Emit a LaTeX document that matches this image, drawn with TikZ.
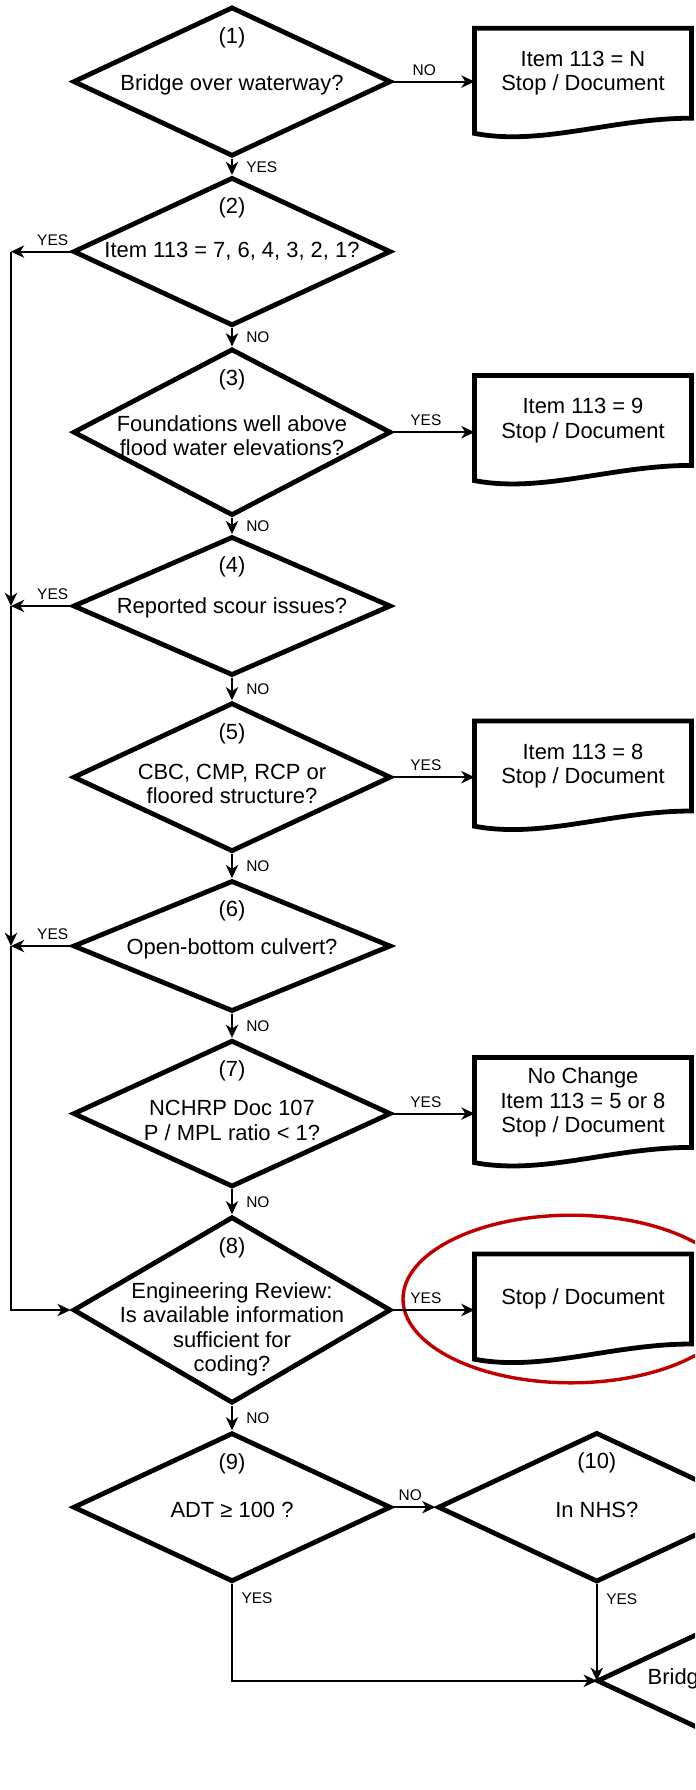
\documentclass[tikz,border=0pt]{standalone}
\usepackage{fontspec}
\setmainfont{Liberation Sans}
\usetikzlibrary{shapes.geometric,arrows.meta,positioning}

\definecolor{ringred}{RGB}{192,0,0}
\newcommand\qfont{\fontsize{15.6pt}{17.4pt}\selectfont}
\newcommand\lblfont{\fontsize{11pt}{13pt}\selectfont}
% wavy document outline around a box node
\newcommand\docshape[1]{%
  \draw[line width=0.12cm] (#1.north west) -- (#1.north east) -- (#1.south east)
    .. controls ([xshift=-2cm]#1.south east) and ([xshift=1.7cm,yshift=-0.7cm]#1.south west)
    .. ([yshift=-0.38cm]#1.south west) -- cycle;}

\tikzset{
  decision/.style={diamond,draw,line width=0.12cm,minimum width=7.95cm,inner sep=0pt},
  docbody/.style={rectangle,minimum width=5.425cm,minimum height=2.25cm,inner sep=0pt,outer sep=0pt,align=center},
  qtext/.style={align=center,inner sep=0pt},
  lbl/.style={font=\lblfont,inner sep=1pt},
}

\begin{document}
\begin{tikzpicture}[>={Stealth[length=3.3mm,width=3.1mm,inset=1mm]},line width=1.3pt,font=\qfont]
  \useasboundingbox (0,0) rectangle (17.375,-44.75);
  \clip (0,0) rectangle (17.375,-44.75);

  % decisions
  \node[decision,minimum height=3.735cm] (d1) at (5.8,-2.04) {};
  \node[decision,minimum height=3.71cm] (d2) at (5.8,-6.29) {};
  \node[decision,minimum height=4.17cm] (d3) at (5.8,-10.805) {};
  \node[decision,minimum height=3.475cm] (d4) at (5.8,-15.15) {};
  \node[decision,minimum height=3.725cm] (d5) at (5.8,-19.43) {};
  \node[decision,minimum height=3.275cm] (d6) at (5.8,-23.65) {};
  \node[decision,minimum height=3.67cm] (d7) at (5.8,-27.84) {};
  \node[decision,minimum height=4.665cm] (d8) at (5.8,-32.75) {};
  \node[decision,minimum height=3.725cm] (d9) at (5.8,-37.68) {};
  \node[decision,minimum height=3.74cm] (d10) at (14.92,-37.68) {};
  \node[decision,minimum height=3.74cm] (d11) at (18.895,-42.02) {};

  \node (n1) at ([yshift=-0.83cm]d1.north) {(1)};
  \node (n2) at ([yshift=-0.83cm]d2.north) {(2)};
  \node (n3) at ([yshift=-0.83cm]d3.north) {(3)};
  \node (n4) at ([yshift=-0.83cm]d4.north) {(4)};
  \node (n5) at ([yshift=-0.83cm]d5.north) {(5)};
  \node (n6) at ([yshift=-0.83cm]d6.north) {(6)};
  \node (n7) at ([yshift=-0.83cm]d7.north) {(7)};
  \node (n8) at ([yshift=-0.83cm]d8.north) {(8)};
  \node (n9) at ([yshift=-0.83cm]d9.north) {(9)};
  \node (n10) at ([yshift=-0.83cm]d10.north) {(10)};

  \node[qtext] (q1) at ([yshift=-0.08cm]d1.center) {Bridge over waterway?};
  \node[qtext] (q2) at (d2.center) {Item 113 = 7, 6, 4, 3, 2, 1?};
  \node[qtext] (q3) at ([yshift=-0.08cm]d3.center) {Foundations well above\\flood water elevations?};
  \node[qtext] (q4) at ([yshift=-0.04cm]d4.center) {Reported scour issues?};
  \node[qtext] (q5) at ([yshift=-0.175cm]d5.center) {CBC, CMP, RCP or\\floored structure?};
  \node[qtext] (q6) at ([yshift=-0.08cm]d6.center) {Open-bottom culvert?};
  \node[qtext] (q7) at ([yshift=-0.175cm]d7.center) {NCHRP Doc 107\\P / MPL ratio < 1?};
  \node[qtext] (q8) at ([yshift=-0.485cm]d8.center) {Engineering Review:\\Is available information\\sufficient for\\coding?};
  \node[qtext] (q9) at ([yshift=-0.07cm]d9.center) {ADT ≥ 100 ?};
  \node[qtext] (q10) at ([yshift=-0.07cm]d10.center) {In NHS?};
  \node[qtext,anchor=west] (q11) at (16.17,-41.96) {Bridge};

  % stop boxes
  \node[docbody] (t1) at (14.575,-1.83) {Item 113 = N\\Stop / Document};
  \node[docbody] (t3) at (14.575,-10.51) {Item 113 = 9\\Stop / Document};
  \node[docbody] (t5) at (14.575,-19.15) {Item 113 = 8\\Stop / Document};
  \node[docbody] (t7) at (14.575,-27.56) {No Change\\Item 113 = 5 or 8\\Stop / Document};
  \node[docbody] (t8) at (14.575,-32.475) {Stop / Document};
  \docshape{t1} \docshape{t3} \docshape{t5} \docshape{t7} \docshape{t8}

  \draw[ringred,line width=0.085cm] ([xshift=-0.3cm]t8.center) ellipse [x radius=4.2cm,y radius=2.095cm];

  % main column
  \draw[->] (d1) -- node[lbl,right=0.3cm] {YES} (d2);
  \draw[->] (d2) -- node[lbl,right=0.3cm] {NO} (d3);
  \draw[->] (d3) -- node[lbl,right=0.3cm] {NO} (d4);
  \draw[->] (d4) -- node[lbl,right=0.3cm] {NO} (d5);
  \draw[->] (d5) -- node[lbl,right=0.3cm] {NO} (d6);
  \draw[->] (d6) -- node[lbl,right=0.3cm] {NO} (d7);
  \draw[->] (d7) -- node[lbl,right=0.3cm] {NO} (d8);
  \draw[->] (d8) -- node[lbl,right=0.3cm] {NO} (d9);

  % to the stop boxes
  \draw[->] (d1.east) -- node[lbl,above=0.1cm,pos=0.38] {NO} (d1.east -| t1.west);
  \draw[->] (d3.east) -- node[lbl,above=0.1cm,pos=0.4] {YES} (d3.east -| t3.west);
  \draw[->] (d5.east) -- node[lbl,above=0.1cm,pos=0.4] {YES} (d5.east -| t5.west);
  \draw[->] (d7.east) -- node[lbl,above=0.1cm,pos=0.4] {YES} (d7.east -| t7.west);
  \draw[->] (d8.east) -- node[lbl,above=0.1cm,pos=0.4] {YES} (d8.east -| t8.west);

  % left rail down to (8)
  \coordinate (rail) at (0.275,0);
  \coordinate (j2) at (d2.west -| rail);
  \coordinate (j4) at (d4.west -| rail);
  \coordinate (j6) at (d6.west -| rail);
  \draw[->] (d2.west) -- node[lbl,above=0.1cm,pos=0.3] {YES} (j2);
  \draw[->] (j2) -- (j4);
  \draw[->] (d4.west) -- node[lbl,above=0.1cm,pos=0.3] {YES} (j4);
  \draw[->] (j4) -- (j6);
  \draw[->] (d6.west) -- node[lbl,above=0.1cm,pos=0.3] {YES} (j6);
  \draw[->] (j6) |- (d8.west);

  % bottom row
  \draw[->] (d9) -- node[lbl,above=0.1cm,pos=0.4] {NO} (d10);
  \draw[->] (d9) -- node[lbl,right=0.18cm,pos=0.15] {YES} (d9 |- d11.west) -- (d10 |- d11.west);
  \draw[->] (d10) -- node[lbl,right=0.18cm,pos=0.15] {YES} (d10 |- d11.west);
\end{tikzpicture}
\end{document}
